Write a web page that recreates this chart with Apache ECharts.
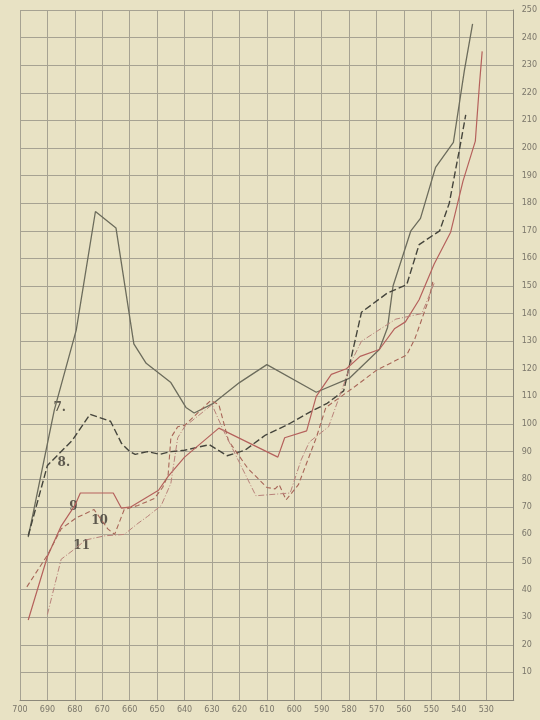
<!DOCTYPE html>
<html><head><meta charset="utf-8">
<script src="https://cdn.jsdelivr.net/npm/echarts@6/dist/echarts.min.js"></script>
<style>html,body{margin:0;padding:0;background:#e8e2c4;}#c{width:540px;height:720px;}</style>
</head><body><div id="c"></div>
<script>
// tick labels
const xTicks = [700,690,680,670,660,650,640,630,620,610,600,590,580,570,560,550,540,530];
const yTicks = [10,20,30,40,50,60,70,80,90,100,110,120,130,140,150,160,170,180,190,200,210,220,230,240,250];

// curve 7 (solid, dark)
const c7_nm  = [697, 687.5, 679.5, 672.5, 665, 658.5, 654, 645, 639.5, 636.5, 629.5, 620, 610, 592, 580, 569, 566, 564, 557.5, 554, 548.5, 542, 538, 535];
const c7_val = [59, 105, 134, 177, 171, 129, 122, 115, 106, 104, 107.5, 115, 121.5, 111.5, 116.5, 127, 135, 150, 170, 174.5, 193, 202, 228, 245];

// curve 8 (dashed, dark)
const c8_nm  = [697, 690, 681, 674.5, 667, 663, 660, 658, 653.5, 649, 645, 640, 631, 624.5, 618, 610.5, 602, 594, 588, 582, 575.5, 566, 559, 554.5, 547, 543.5, 539.5, 537.5];
const c8_val = [59.5, 85, 94, 103.5, 101, 93, 90, 89, 90, 89, 90, 90.5, 92.5, 88.5, 90.5, 96, 100, 104.5, 107.5, 112, 140.5, 147.5, 150.5, 165, 170, 180, 201, 212];

// curve 9 (solid, red)
const c9_nm  = [697, 690, 685, 680, 678, 666, 663, 659.5, 649.5, 646, 640, 627.5, 606, 603.5, 595.5, 592, 586.5, 581, 576, 569, 563.5, 559.5, 554.5, 549, 543, 538.5, 534, 532.5, 531.5];
const c9_val = [29, 52, 63, 70.5, 75, 75, 69.5, 70, 76, 81, 88, 98.5, 88, 95, 97.5, 110, 118, 120, 124.5, 127, 134.5, 137, 145, 158, 169.5, 188, 202.5, 223, 235];

// curve 10 (dashed, red)
const c10_nm  = [697.5, 690, 685, 679.5, 673, 668, 665.5, 662, 657, 651, 648, 646, 645, 642.5, 640, 630.5, 627.5, 624, 617, 610, 607, 605.5, 603, 598.5, 592, 588.5, 578, 570, 559, 556, 551, 549.5];
const c10_val = [41, 52.5, 62, 66, 69, 62, 60, 69, 70.5, 73, 77, 81.5, 95, 99, 99.5, 108.5, 107, 94, 84, 77, 76.5, 78, 72.5, 78, 95, 106, 113.5, 119.5, 125, 131, 145, 151.5];

// curve 11 (dash-dot, red)
const c11_nm  = [690, 685, 681, 676, 669, 662, 657, 653.5, 648.5, 645, 642.5, 640, 630, 626, 620, 614, 601.5, 597.5, 594.5, 587.5, 581, 579, 575.5, 563, 553.5, 549];
const c11_val = [31, 51, 54, 58, 59.5, 60, 64, 66.5, 70.5, 78.5, 95, 99, 107, 98, 86, 74, 75, 87, 93.5, 99, 117, 123, 130, 138, 140, 151];

// curve labels
const labelText = ['7.', '8.', '9', '10', '11'];
const labelNm   = [685.5, 684, 680.5, 671, 677.5];
const labelVal  = [106, 86, 70, 65, 56];

const zip = (a, b) => a.map((v, i) => [v, b[i]]);

const chart = echarts.init(document.getElementById('c'), null, {renderer: 'canvas'});
const gridColor = '#a6a292';
chart.setOption({
  backgroundColor: '#e8e2c4',
  animation: false,
  grid: {left: 20, right: 23, top: 10, bottom: 20},
  xAxis: {
    type: 'value', min: 520, max: 700, interval: 10, inverse: true,
    axisLine: {show: true, lineStyle: {color: '#8c887a', width: 1}},
    axisTick: {show: false},
    splitLine: {show: true, lineStyle: {color: gridColor, width: 1}},
    axisLabel: {
      margin: 6, fontSize: 8, color: '#7a766a', fontFamily: 'DejaVu Sans',
      formatter: v => xTicks.includes(v) ? String(v) : ''
    }
  },
  yAxis: {
    type: 'value', position: 'right', min: 0, max: 250, interval: 10,
    axisLine: {show: true, lineStyle: {color: '#8c887a', width: 1}},
    axisTick: {show: false},
    splitLine: {show: true, lineStyle: {color: gridColor, width: 1}},
    axisLabel: {
      margin: 8, fontSize: 8, color: '#7a766a', fontFamily: 'DejaVu Sans',
      formatter: v => yTicks.includes(v) ? String(v) : ''
    }
  },
  series: [
    {type: 'line', data: zip(c7_nm, c7_val), symbol: 'none',
     lineStyle: {color: '#6c6c5c', width: 1.3, type: 'solid'}},
    {type: 'line', data: zip(c8_nm, c8_val), symbol: 'none',
     lineStyle: {color: '#45453c', width: 1.4, type: [7, 3]}},
    {type: 'line', data: zip(c9_nm, c9_val), symbol: 'none',
     lineStyle: {color: '#b5615c', width: 1.2, type: 'solid'}},
    {type: 'line', data: zip(c10_nm, c10_val), symbol: 'none',
     lineStyle: {color: '#a86658', width: 1.1, type: [5, 3]}},
    {type: 'line', data: zip(c11_nm, c11_val), symbol: 'none',
     lineStyle: {color: '#b9827a', width: 1.0, type: [6, 2, 1, 2]}},
    {type: 'scatter', symbolSize: 0, silent: true,
     data: labelNm.map((v, i) => ({value: [v, labelVal[i]], name: labelText[i]})),
     label: {show: true, position: 'inside', formatter: p => p.name,
       fontFamily: 'DejaVu Serif', fontWeight: 'bold', fontSize: 12, color: '#3a3630'}}
  ]
});
</script></body></html>
